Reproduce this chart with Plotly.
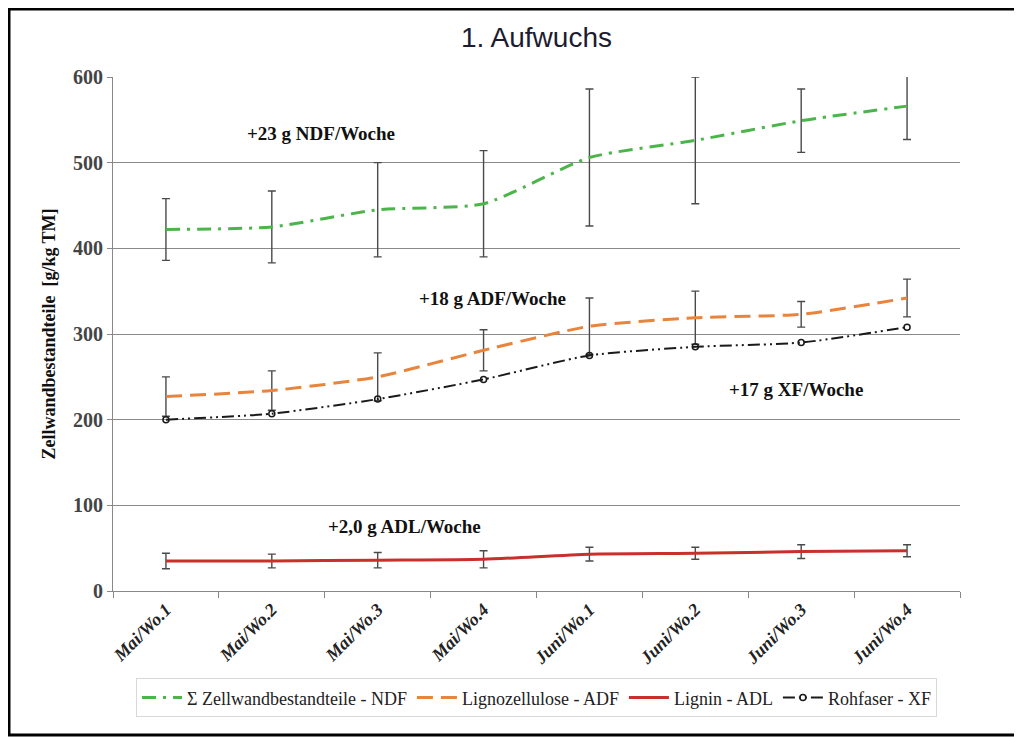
import plotly.graph_objects as go

categories = ["Mai/Wo.1", "Mai/Wo.2", "Mai/Wo.3", "Mai/Wo.4",
              "Juni/Wo.1", "Juni/Wo.2", "Juni/Wo.3", "Juni/Wo.4"]

ndf = [422, 425, 445, 452, 506, 526, 549, 566]
ndf_err = [36, 42, 55, 62, 80, 74, 37, 39]

adf = [227, 234, 250, 281, 309, 319, 323, 342]
adf_err = [23, 23, 28, 24, 33, 31, 15, 22]

adl = [35, 35, 36, 37, 43, 44, 46, 47]
adl_err = [9, 8, 9, 10, 8, 7, 8, 7]

xf = [200, 207, 224, 247, 275, 285, 290, 308]

series_names = ["\u03a3 Zellwandbestandteile - NDF", "Lignozellulose - ADF",
                "Lignin - ADL", "Rohfaser - XF"]

annotations_text = ["+23 g NDF/Woche", "+18 g ADF/Woche", "+17 g XF/Woche", "+2,0 g ADL/Woche"]
annotations_x = [1.46, 3.08, 5.95, 2.25]
annotations_y = [534, 342, 235, 75]

serif = "Liberation Serif, Times New Roman, serif"
err_style = dict(type="data", visible=True, color="#4a4a4a", thickness=1.4, width=4)

fig = go.Figure()

fig.add_trace(go.Scatter(
    x=categories, y=ndf, name=series_names[0], mode="lines",
    line=dict(color="#4bb54a", width=3, dash="14px,7px,3px,7px", shape="spline", smoothing=0.6),
    error_y=dict(array=ndf_err, **err_style),
))
fig.add_trace(go.Scatter(
    x=categories, y=adf, name=series_names[1], mode="lines",
    line=dict(color="#e8843c", width=3, dash="16px,8px", shape="spline", smoothing=0.6),
    error_y=dict(array=adf_err, **err_style),
))
fig.add_trace(go.Scatter(
    x=categories, y=adl, name=series_names[2], mode="lines",
    line=dict(color="#c9302c", width=3, shape="spline", smoothing=0.6),
    error_y=dict(array=adl_err, **err_style),
))
fig.add_trace(go.Scatter(
    x=categories, y=xf, name=series_names[3], mode="lines+markers",
    line=dict(color="#1a1a1a", width=2, dash="12px,4px,2px,4px,2px,4px", shape="spline", smoothing=0.6),
    marker=dict(symbol="circle-open", size=6, color="#1a1a1a", line=dict(width=1.5)),
))

for t, ax, ay in zip(annotations_text, annotations_x, annotations_y):
    fig.add_annotation(x=ax, y=ay, xref="x", yref="y", text="<b>" + t + "</b>",
                       showarrow=False, font=dict(family=serif, size=19, color="#111"))

# outer frame
fig.add_shape(type="rect", xref="paper", yref="paper",
              x0=-0.1228, x1=1.0685, y0=-0.280, y1=1.1323,
              line=dict(color="black", width=3), fillcolor="rgba(0,0,0,0)", layer="below")

fig.update_layout(
    width=1014, height=729,
    margin=dict(l=105, r=62, t=69, b=146),
    paper_bgcolor="white", plot_bgcolor="white",
    title=dict(text="1. Aufwuchs", x=0.5, xref="paper", y=0.960, yanchor="middle",
               font=dict(family="Liberation Sans, Arial, sans-serif", size=28, color="#1c1c30")),
    showlegend=True,
    legend=dict(orientation="h", x=0.5, xanchor="center", y=-0.208, yanchor="middle",
                bordercolor="#d8d8d8", borderwidth=1,
                font=dict(family=serif, size=18, color="#222"), itemwidth=40,
                traceorder="normal"),
    xaxis=dict(
        type="category", showgrid=False, showline=True, linecolor="#888", linewidth=1,
        ticks="outside", tickson="boundaries", ticklen=6, tickcolor="#888",
        tickangle=-45,
        tickfont=dict(family=serif, size=18, color="#222", style="italic", weight="bold"),
        range=[-0.5, 7.5],
    ),
    yaxis=dict(
        range=[0, 600], dtick=100, showgrid=True, gridcolor="#8a8a8a", gridwidth=1,
        showline=True, linecolor="#888", linewidth=1, ticks="outside", ticklen=5,
        tickcolor="#888", zeroline=False,
        tickfont=dict(family=serif, size=20, color="#444", weight="bold"),
        title=dict(text="<b>Zellwandbestandteile  [g/kg TM]</b>", standoff=12,
                   font=dict(family=serif, size=18, color="#111")),
    ),
)

fig.write_html("out.html")
